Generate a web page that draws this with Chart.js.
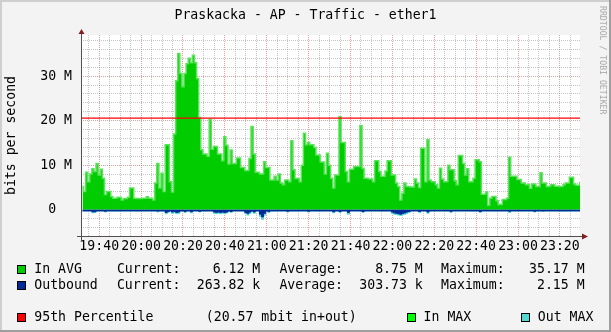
<!DOCTYPE html>
<html>
<head>
<meta charset="utf-8">
<script src="https://cdn.jsdelivr.net/npm/chart.js@4.4.1/dist/chart.umd.min.js"></script>
<style>
  body { margin: 0; background: #f3f3f3; }
  #wrap { position: relative; width: 611px; height: 332px; overflow: hidden; }
  #wrap canvas { position: absolute; left: 0; top: 0; }
  .t { position: absolute; font: 13.2px "DejaVu Sans Mono", monospace; line-height: 15.4px; color: #000; white-space: pre; }
  .sq { position: absolute; width: 7px; height: 7px; border: 1px solid #000; }
  #title { left: 0; width: 611px; text-align: center; top: 7px; }
  #mark { position: absolute; font: 8.2px "DejaVu Sans Mono", monospace; line-height: 10px; color: #a8a8a8;
          transform-origin: 0 0; transform: rotate(90deg); left: 608px; top: 6px; white-space: pre; }
</style>
</head>
<body>
<div id="wrap">
  <canvas id="chart" width="611" height="332"></canvas>
  <div class="t" id="title">Praskacka - AP - Traffic - ether1</div>
  <div id="mark">RRDTOOL / TOBI OETIKER</div>
</div>
<script>
// one sample per minute, minutes counted from 19:00
const startMin = 32;
const xMin = 31.3, xMax = 269.6;

// inbound average, Mbit/s
const inAvg = [
  5.2, 4.1, 8.4, 6.3, 8.0, 9.2, 8.6, 10.4, 7.8, 9.1,
  7.1, 3.4, 4.1, 4.1, 3.0, 2.6, 2.6, 2.8, 2.8, 2.2,
  2.5, 2.5, 2.8, 4.9, 4.9, 2.6, 2.5, 2.5, 2.5, 2.6,
  2.6, 2.9, 2.6, 2.6, 2.2, 6.0, 10.4, 4.9, 8.2, 4.1,
  14.6, 14.6, 6.3, 4.0, 17.0, 29.0, 35.1, 30.6, 27.6, 30.6,
  32.8, 34.0, 33.0, 34.7, 33.0, 29.5, 20.7, 13.5, 12.5, 12.5,
  12.0, 20.3, 13.6, 14.2, 14.2, 12.5, 12.5, 11.0, 16.4, 14.5,
  10.3, 13.4, 10.4, 10.4, 11.6, 11.6, 9.5, 9.5, 8.8, 8.8,
  11.5, 18.7, 12.5, 8.4, 8.4, 8.0, 8.0, 10.8, 9.5, 9.5,
  6.7, 6.7, 7.5, 6.7, 8.0, 6.0, 5.6, 6.7, 6.7, 6.3,
  15.5, 9.0, 7.0, 7.0, 6.3, 10.0, 17.2, 14.6, 15.1, 14.6,
  14.6, 14.0, 12.3, 12.3, 10.7, 10.7, 8.0, 12.7, 10.0, 7.1,
  4.9, 7.8, 7.8, 20.9, 15.1, 15.1, 8.6, 6.3, 9.1, 9.1,
  9.7, 9.7, 9.7, 18.9, 9.3, 7.1, 7.1, 6.9, 6.9, 6.3,
  11.0, 11.0, 8.6, 7.5, 7.5, 8.7, 11.0, 11.0, 7.8, 7.8,
  6.0, 5.2, 2.2, 3.7, 6.0, 5.2, 5.2, 5.1, 5.1, 6.9,
  6.0, 5.0, 13.8, 13.8, 6.3, 15.7, 6.7, 6.3, 6.3, 5.6,
  4.9, 9.3, 6.9, 6.3, 6.3, 10.0, 9.0, 9.0, 6.5, 5.6,
  12.2, 12.2, 10.4, 7.8, 9.2, 6.3, 6.3, 7.1, 11.2, 11.2,
  10.8, 3.5, 3.5, 4.0, 1.0, 2.6, 3.0, 3.0, 2.0, 1.2,
  1.2, 2.3, 2.3, 2.6, 11.8, 7.5, 7.5, 7.5, 6.8, 6.8,
  6.0, 6.0, 5.6, 5.6, 4.8, 5.8, 5.8, 5.2, 5.2, 8.3,
  6.0, 6.0, 5.2, 5.2, 5.6, 5.6, 5.3, 5.3, 5.2, 5.2,
  5.6, 6.0, 6.0, 7.3, 7.3, 5.8, 5.5, 5.5, 6.1
];

// outbound average, Mbit/s (drawn below zero)
const outAvg = [
  .26, .26, .26, .26, .26, .45, .45, .26, .26, .26,
  .26, .35, .26, .26, .26, .26, .26, .26, .26, .26,
  .26, .26, .26, .26, .26, .26, .26, .26, .26, .26,
  .26, .26, .26, .26, .26, .26, .3, .26, .26, .26,
  .6, .4, .26, .5, .4, .6, .5, .26, .26, .4,
  .26, .26, .45, .26, .26, .26, .35, .26, .26, .26,
  .26, .26, .26, .5, .6, .5, .6, .5, .6, .5,
  .26, .4, .26, .26, .26, .26, .26, .26, .6, .8,
  .5, .26, .5, .26, .26, 1.0, 1.6, .8, .26, .4,
  .26, .26, .26, .26, .26, .26, .26, .26, .35, .26,
  .26, .26, .26, .26, .26, .26, .26, .26, .35, .26,
  .26, .26, .26, .26, .26, .26, .26, .26, .26, .26,
  .45, .26, .26, .4, .26, .26, .26, .6, .26, .26,
  .26, .26, .26, .26, .4, .26, .26, .26, .26, .26,
  .26, .26, .26, .26, .26, .26, .26, .26, .5, .7,
  .8, .9, 1.0, .8, .7, .5, .4, .26, .26, .26,
  .26, .4, .26, .26, .26, .5, .26, .26, .26, .26,
  .26, .26, .26, .26, .26, .26, .35, .26, .26, .26,
  .26, .26, .26, .26, .26, .26, .26, .26, .26, .26,
  .4, .26, .26, .26, .26, .26, .26, .26, .26, .26,
  .26, .26, .26, .26, .35, .26, .26, .26, .26, .26,
  .26, .26, .26, .26, .26, .26, .35, .26, .26, .26,
  .3, .26, .26, .26, .26, .26, .26, .26, .26, .26,
  .26, .26, .26, .26, .26, .26, .26, .26, .26
];

// outbound maximum, Mbit/s
const outMax = [
  .3, .3, .3, .3, .3, .7, .6, .3, .3, .3,
  .3, .5, .3, .3, .3, .3, .3, .3, .3, .3,
  .3, .3, .3, .3, .3, .3, .3, .3, .3, .3,
  .3, .3, .3, .3, .3, .3, .5, .3, .3, .3,
  .9, .6, .3, .8, .6, .9, .8, .3, .3, .6,
  .3, .3, .7, .3, .3, .3, .5, .3, .3, .3,
  .3, .3, .3, .8, .9, .8, .9, .8, .9, .7,
  .3, .6, .3, .3, .3, .3, .3, .3, .9, 1.2,
  .8, .3, .8, .3, .3, 1.5, 2.15, 1.2, .3, .6,
  .3, .3, .3, .3, .3, .3, .3, .3, .5, .3,
  .3, .3, .3, .3, .3, .3, .3, .3, .5, .3,
  .3, .3, .3, .3, .3, .3, .3, .3, .3, .3,
  .7, .3, .3, .6, .3, .3, .3, 1.0, .3, .3,
  .3, .3, .3, .3, .6, .3, .3, .3, .3, .3,
  .3, .3, .3, .3, .3, .3, .3, .3, .8, 1.0,
  1.1, 1.2, 1.3, 1.1, 1.0, .8, .6, .3, .3, .3,
  .3, .6, .3, .3, .3, .8, .3, .3, .3, .3,
  .3, .3, .3, .3, .3, .3, .6, .3, .3, .3,
  .3, .3, .3, .3, .3, .3, .3, .3, .3, .3,
  .6, .3, .3, .3, .3, .3, .3, .3, .3, .3,
  .3, .3, .3, .3, .6, .3, .3, .3, .3, .3,
  .3, .3, .3, .3, .3, .3, .5, .3, .3, .3,
  .3, .3, .3, .3, .3, .3, .3, .3, .3, .3,
  .3, .3, .3, .3, .3, .3, .3, .3, .3
];

const p95 = 20.57;

// legend texts
const legendNames = ["In AVG", "Outbound"];
const legendColors = ["#00cc00", "#002a97"];
const legendCurrent = ["6.12 M", "263.82 k"];
const legendAverage = ["8.75 M", "303.73 k"];
const legendMaximum = ["35.17 M", "2.15 M"];

const monoFont = { family: "DejaVu Sans Mono", size: 13.2 };
const majorGrid = "rgba(222,60,60,0.5)";
const minorGrid = "rgba(140,140,140,0.5)";

function clock(v) {
    let h = 19 + Math.floor(v / 60);
    let m = v % 60;
    return h + ":" + String(m).padStart(2, "0");
}

function near(v, step) {
    let r = Math.round(v * 1000) / 1000;
    return r % step === 0;
}

const pts = arr => arr.map((v, i) => ({ x: startMin + i, y: v }));

// background, frame and axis arrows like rrdtool
const frame = {
    id: "frame",
    beforeDraw(chart) {
        const { ctx, chartArea: a, width, height } = chart;
        ctx.save();
        ctx.fillStyle = "#f3f3f3";
        ctx.fillRect(0, 0, width, height);
        ctx.fillStyle = "#cfcfcf";
        ctx.fillRect(0, 0, width, 2);
        ctx.fillRect(0, 0, 2, height);
        ctx.fillStyle = "#9e9e9e";
        ctx.fillRect(0, height - 2, width, 2);
        ctx.fillRect(width - 2, 0, 2, height);
        ctx.fillStyle = "#ffffff";
        ctx.fillRect(a.left, a.top, a.right - a.left, a.bottom - a.top);
        ctx.restore();
    },
    afterDatasetsDraw(chart) {
        const { ctx, chartArea: a } = chart;
        ctx.save();
        ctx.strokeStyle = "#505050";
        ctx.lineWidth = 1;
        ctx.beginPath();
        ctx.moveTo(a.left - 4, a.bottom + 0.5);
        ctx.lineTo(a.right + 3, a.bottom + 0.5);
        ctx.moveTo(a.left + 0.5, a.bottom + 4);
        ctx.lineTo(a.left + 0.5, a.top - 2);
        ctx.stroke();
        ctx.fillStyle = "#7f1f1f";
        ctx.beginPath();
        ctx.moveTo(a.right + 2, a.bottom - 2.5);
        ctx.lineTo(a.right + 8, a.bottom + 0.5);
        ctx.lineTo(a.right + 2, a.bottom + 3.5);
        ctx.fill();
        ctx.beginPath();
        ctx.moveTo(a.left - 2.5, a.top - 1);
        ctx.lineTo(a.left + 0.5, a.top - 6);
        ctx.lineTo(a.left + 3.5, a.top - 1);
        ctx.fill();
        ctx.restore();
    }
};

new Chart(document.getElementById("chart").getContext("2d"), {
    type: "line",
    data: {
        datasets: [
            {
                label: "95th Percentile",
                data: [{ x: xMin, y: p95 }, { x: xMax, y: p95 }],
                borderColor: "#ff0000",
                borderWidth: 1.3,
                pointRadius: 0,
                fill: false,
                order: 0
            },
            {
                label: "Outbound",
                data: pts(outAvg.map(v => -v)),
                borderColor: "#002a97",
                backgroundColor: "#002a97",
                borderWidth: 1,
                pointRadius: 0,
                stepped: "middle",
                fill: "origin",
                order: 1
            },
            {
                label: "Out MAX",
                data: pts(outMax.map(v => -v)),
                borderColor: "#55d6d3",
                backgroundColor: "#55d6d3",
                borderWidth: 1,
                pointRadius: 0,
                stepped: "middle",
                fill: "origin",
                order: 2
            },
            {
                label: "In AVG",
                data: pts(inAvg),
                borderColor: "#5be35b",
                backgroundColor: "#00cc00",
                borderWidth: 1.5,
                pointRadius: 0,
                stepped: "middle",
                fill: "origin",
                order: 3
            }
        ]
    },
    options: {
        responsive: false,
        animation: false,
        devicePixelRatio: 1,
        layout: { padding: { left: 0, top: 35, right: 31, bottom: 0 } },
        plugins: {
            legend: { display: false },
            tooltip: { enabled: false }
        },
        scales: {
            x: {
                type: "linear",
                min: xMin,
                max: xMax,
                afterFit: s => { s.height = 96; },
                border: { display: false, dash: [1, 1] },
                grid: {
                    drawTicks: false,
                    color: c => near(c.tick.value, 20) ? majorGrid : (near(c.tick.value, 5) ? minorGrid : "rgba(0,0,0,0)")
                },
                ticks: {
                    stepSize: 5,
                    includeBounds: false,
                    autoSkip: false,
                    maxRotation: 0,
                    minRotation: 0,
                    padding: 3,
                    color: "#000",
                    font: monoFont,
                    callback: v => near(v, 20) ? clock(v) : ""
                }
            },
            y: {
                min: -5.9,
                max: 39.25,
                afterFit: s => { s.width = 81; },
                border: { display: false, dash: [1, 1] },
                grid: {
                    drawTicks: false,
                    color: c => near(c.tick.value, 10) ? majorGrid : (near(c.tick.value, 2) ? minorGrid : "rgba(0,0,0,0)")
                },
                ticks: {
                    stepSize: 2,
                    includeBounds: false,
                    autoSkip: false,
                    padding: 9,
                    color: "#000",
                    font: monoFont,
                    callback: v => {
                        if (!near(v, 10)) return "";
                        let r = Math.round(v);
                        return r === 0 ? "0  " : r + " M";
                    }
                },
                title: {
                    display: true,
                    text: "bits per second",
                    color: "#000",
                    font: monoFont,
                    padding: { top: 4, bottom: 0 }
                }
            }
        }
    },
    plugins: [frame]
});

// legend below the plot
const wrap = document.getElementById("wrap");

function addText(txt, left, top, right) {
    let d = document.createElement("div");
    d.className = "t";
    d.textContent = txt;
    d.style.top = top + "px";
    if (right !== undefined) d.style.right = (611 - right) + "px";
    else d.style.left = left + "px";
    wrap.appendChild(d);
}

function addBox(color, left, top) {
    let d = document.createElement("div");
    d.className = "sq";
    d.style.background = color;
    d.style.left = left + "px";
    d.style.top = top + "px";
    wrap.appendChild(d);
}

const rowTops = [261.3, 277];
for (let i = 0; i < legendNames.length; i++) {
    let top = rowTops[i];
    addBox(legendColors[i], 17, top + 3.7);
    addText(legendNames[i], 34.3, top);
    addText("Current:", 116.9, top);
    addText(legendCurrent[i], 0, top, 260.3);
    addText("Average:", 279.4, top);
    addText(legendAverage[i], 0, top, 422.8);
    addText("Maximum:", 441.1, top);
    addText(legendMaximum[i], 0, top, 584.6);
}

let top3 = 309.2;
addBox("#ff0000", 17, top3 + 3.7);
addText("95th Percentile", 34.3, top3);
addText("(" + p95 + " mbit in+out)", 205.8, top3);
addBox("#00ff00", 406.5, top3 + 3.7);
addText("In MAX", 423.6, top3);
addBox("#55d6d3", 521, top3 + 3.7);
addText("Out MAX", 537.8, top3);
</script>
</body>
</html>
